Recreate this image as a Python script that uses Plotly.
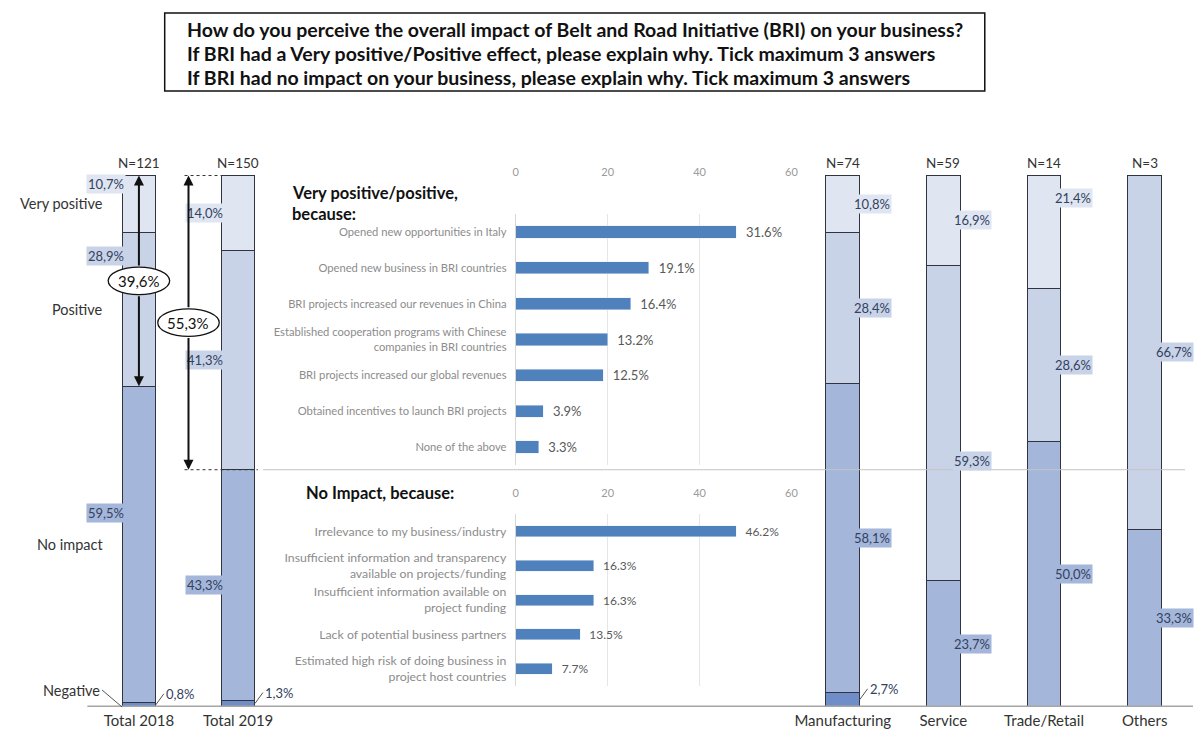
import plotly.graph_objects as go

# stacked bars: share of answers (%)
totals = ["Total 2018", "Total 2019"]
sectors = ["Manufacturing", "Service", "Trade/Retail", "Others"]
n_total = [121, 150]
n_sector = [74, 59, 14, 3]
negative_total = [0.8, 1.3]
no_impact_total = [59.5, 43.3]
positive_total = [28.9, 41.3]
very_positive_total = [10.7, 14.0]
negative_sector = [2.7, 0, 0, 0]
no_impact_sector = [58.1, 23.7, 50.0, 33.3]
positive_sector = [28.4, 59.3, 28.6, 66.7]
very_positive_sector = [10.8, 16.9, 21.4, 0]

# reasons for a positive effect (bar = count, label = %)
pos_reasons = [
    "Opened new opportunities in Italy",
    "Opened new business in BRI countries",
    "BRI projects increased our revenues in China",
    "Established cooperation programs with Chinese<br>companies in BRI countries",
    "BRI projects increased our global revenues",
    "Obtained incentives to launch BRI projects",
    "None of the above",
]
pos_counts = [48, 29, 25, 20, 19, 6, 5]
pos_pct = [31.6, 19.1, 16.4, 13.2, 12.5, 3.9, 3.3]

# reasons for no impact
noimp_reasons = [
    "Irrelevance to my business/industry",
    "Insufficient information and transparency<br>available on projects/funding",
    "Insufficient information available on<br>project funding",
    "Lack of potential business partners",
    "Estimated high risk of doing business in<br>project host countries",
]
noimp_counts = [48, 17, 17, 14, 8]
noimp_pct = [46.2, 16.3, 16.3, 13.5, 7.7]

# page has an 8px body margin, so the figure is a bit smaller than the window
OX, OY = 8, 8
W, H = 1202 - OX, 734 - OY
FONT = "Lato"


def px(x):
    return (x - OX) / W


def py(y):
    return 1 - (y - OY) / H


def comma(v):
    return f"{v:.1f}".replace(".", ",") + "%"


seg_names = ["Negative", "No impact", "Positive", "Very positive"]
seg_colors = ["#6f8ec8", "#a4b6da", "#c8d3e8", "#dfe6f2"]
seg_total = [negative_total, no_impact_total, positive_total, very_positive_total]
seg_sector = [negative_sector, no_impact_sector, positive_sector, very_positive_sector]

fig = go.Figure()

for name, col, tv, sv in zip(seg_names, seg_colors, seg_total, seg_sector):
    fig.add_trace(go.Bar(x=totals, y=tv, name=name, xaxis="x", yaxis="y", width=0.34,
                         marker=dict(color=col, line=dict(color="#2f3440", width=1))))
    fig.add_trace(go.Bar(x=sectors, y=sv, name=name, xaxis="x2", yaxis="y", width=0.335,
                         marker=dict(color=col, line=dict(color="#2f3440", width=1))))

fig.add_trace(go.Bar(
    x=pos_counts, y=pos_reasons, orientation="h", xaxis="x3", yaxis="y3", width=0.34,
    marker_color="#4f81bd", text=[f"\u00a0\u00a0{v:.1f}%" for v in pos_pct],
    textposition="outside", constraintext="none",
    textfont=dict(family=FONT, size=13, color="#595959"), cliponaxis=False))
fig.add_trace(go.Bar(
    x=noimp_counts, y=noimp_reasons, orientation="h", xaxis="x4", yaxis="y4", width=0.32,
    marker_color="#4f81bd", text=[f"\u00a0\u00a0{v:.1f}%" for v in noimp_pct],
    textposition="outside", constraintext="none",
    textfont=dict(family=FONT, size=12, color="#595959"), cliponaxis=False))

ann = []
shapes = []
lab_font = dict(family=FONT, size=13, color="#33415e")

# where inside a segment the value label sits (0 bottom .. 1 top)
label_frac = {("Total 2018", 3): 0.85, ("Total 2018", 2): 0.85, ("Total 2018", 1): 0.6,
              ("Trade/Retail", 3): 0.8, ("Service", 2): 0.38}

groups = [("x", totals, seg_total, n_total, 0.17, "left"),
          ("x2", sectors, seg_sector, n_sector, 0.1675, "right")]
for xr, cats, segs, ns, half, side in groups:
    for i, cat in enumerate(cats):
        base = 0
        for k in range(4):
            v = segs[k][i]
            if v > 0:
                if k == 0:
                    ann.append(dict(x=i + half, y=v / 2, xref=xr, yref="y", text=comma(v),
                                    showarrow=True, arrowhead=0, arrowwidth=1, arrowcolor="#555",
                                    ax=8, ay=-11, xanchor="left", yanchor="middle",
                                    font=lab_font))
                else:
                    f = label_frac.get((cat, k), 0.5)
                    if side == "left":
                        ann.append(dict(x=i - half, y=base + v * f, xref=xr, yref="y",
                                        text=comma(v), showarrow=False, xanchor="right",
                                        yanchor="middle", xshift=4, bgcolor=seg_colors[k],
                                        font=lab_font))
                    else:
                        ann.append(dict(x=i + half, y=base + v * f, xref=xr, yref="y",
                                        text=comma(v), showarrow=False, xanchor="left",
                                        yanchor="middle", xshift=-8, bgcolor=seg_colors[k],
                                        font=lab_font))
            base += v
        ann.append(dict(x=i, y=100, xref=xr, yref="y", text=f"N={ns[i]}", showarrow=False,
                        yanchor="bottom", yshift=2, font=dict(family=FONT, size=13.5, color="#333")))

# category names next to the 2018 bar
side_font = dict(family=FONT, size=14.5, color="#333")
base = 0
for k, name in enumerate(seg_names):
    v = seg_total[k][0]
    if k > 0:
        ann.append(dict(x=px(103), y=base + v / 2, xref="paper", yref="y", text=name,
                        showarrow=False, xanchor="right", yanchor="middle", font=side_font))
    base += v
ann.append(dict(x=-0.17, y=0, xref="x", yref="y", text="Negative", showarrow=True,
                arrowhead=0, arrowwidth=1, arrowcolor="#555", ax=-20, ay=-17,
                xanchor="right", yanchor="middle", font=side_font))

# double arrows with positive share ellipses
arrows = [(0, negative_total[0] + no_impact_total[0],
           sum(s[0] for s in seg_total), positive_total[0] + very_positive_total[0]),
          (0.5, negative_total[1] + no_impact_total[1],
           sum(s[1] for s in seg_total), positive_total[1] + very_positive_total[1])]
for xc, lo, hi, share in arrows:
    mid = (lo + hi) / 2
    for head, tail in [(hi, mid + 2.6), (lo, mid - 2.6)]:
        ann.append(dict(x=xc, y=head, ax=xc, ay=tail, xref="x", yref="y", axref="x", ayref="y",
                        text="", showarrow=True, arrowhead=2, arrowsize=1, arrowwidth=2,
                        arrowcolor="#111", standoff=0, startstandoff=0))
    shapes.append(dict(type="circle", xref="x", yref="y", x0=xc - 0.31, x1=xc + 0.31,
                       y0=mid - 2.6, y1=mid + 2.6, fillcolor="white",
                       line=dict(color="#111", width=1.3)))
    ann.append(dict(x=xc, y=mid, xref="x", yref="y", text=comma(share), showarrow=False,
                    yanchor="middle", font=dict(family=FONT, size=15, color="#111")))

# dotted limits of the 2019 arrow and separator line
top19 = sum(s[1] for s in seg_total)
low19 = negative_total[1] + no_impact_total[1]
shapes.append(dict(type="line", xref="x", yref="y", x0=0.46, x1=1 - 0.17, y0=top19, y1=top19,
                   line=dict(color="#333", width=1, dash="dot")))
shapes.append(dict(type="line", xref="x", yref="y", x0=0.46, x1=1 + 0.2, y0=low19, y1=low19,
                   line=dict(color="#333", width=1, dash="dot")))
shapes.append(dict(type="line", xref="paper", yref="y", x0=px(262), x1=px(1192),
                   y0=low19, y1=low19, line=dict(color="#c4c4c4", width=1)))
# baseline
shapes.append(dict(type="line", xref="paper", yref="y", x0=px(85), x1=px(1200), y0=0, y1=0,
                   line=dict(color="#a6a6a6", width=3)))

# title box
shapes.append(dict(type="rect", xref="paper", yref="paper", x0=px(163), x1=px(990),
                   y0=py(91), y1=py(13), line=dict(color="#111", width=1.5)))
title_lines = [
    "How do you perceive the overall impact of Belt and Road Initiative (BRI) on your business?",
    "If BRI had a Very positive/Positive effect, please explain why. Tick maximum 3 answers",
    "If BRI had no impact on your business, please explain why. Tick maximum 3 answers",
]
for j, t in enumerate(title_lines):
    ann.append(dict(x=px(183), y=py(30 + 24 * j), xref="paper", yref="paper", text=f"<b>{t}</b>",
                    showarrow=False, xanchor="left", yanchor="middle",
                    font=dict(family=FONT, size=19.5, color="#111")))

# headers of the reason charts
head_font = dict(family=FONT, size=16.5, color="#111")
for t, x, y in [("Very positive/positive,", 289, 193), ("because:", 289, 214),
                ("No Impact, because:", 303, 493)]:
    ann.append(dict(x=px(x), y=py(y), xref="paper", yref="paper", text=f"<b>{t}</b>",
                    showarrow=False, xanchor="left", yanchor="middle", font=head_font))

reason_x = dict(range=[0, 60], tickvals=[0, 20, 40, 60], side="top", anchor="free",
                showgrid=True, gridcolor="#e6e6e6", zeroline=False, showline=False,
                tickfont=dict(family=FONT, size=11, color="#9a9a9a"),
                domain=[px(517), px(795)])
reason_y = dict(type="category", autorange="reversed", showline=True, linecolor="#d6d6d6",
                ticks="", ticklabelstandoff=6, showgrid=False)

fig.update_layout(
    width=W, height=H, margin=dict(l=0, r=0, t=0, b=0),
    paper_bgcolor="white", plot_bgcolor="white", barmode="stack", showlegend=False,
    font=dict(family=FONT),
    xaxis=dict(domain=[px(87), px(287)], range=[-0.5, 1.5], anchor="y", showgrid=False,
               showline=False, ticks="", ticklabelstandoff=3,
               tickfont=dict(family=FONT, size=15, color="#333")),
    xaxis2=dict(domain=[px(796), 1.0], range=[-0.5, 3.5], anchor="y", showgrid=False,
                showline=False, ticks="", ticklabelstandoff=3,
                tickfont=dict(family=FONT, size=15, color="#333")),
    yaxis=dict(domain=[py(707), py(175)], range=[0, 100], visible=False),
    xaxis3=dict(reason_x, position=py(178)),
    yaxis3=dict(reason_y, domain=[py(465), py(214)], anchor="x3",
                tickfont=dict(family=FONT, size=11.2, color="#8c8c8c")),
    xaxis4=dict(reason_x, position=py(499)),
    yaxis4=dict(reason_y, domain=[py(686), py(514)], anchor="x4",
                tickfont=dict(family=FONT, size=12.3, color="#8c8c8c")),
    annotations=ann, shapes=shapes,
)

fig.write_html("out.html")
